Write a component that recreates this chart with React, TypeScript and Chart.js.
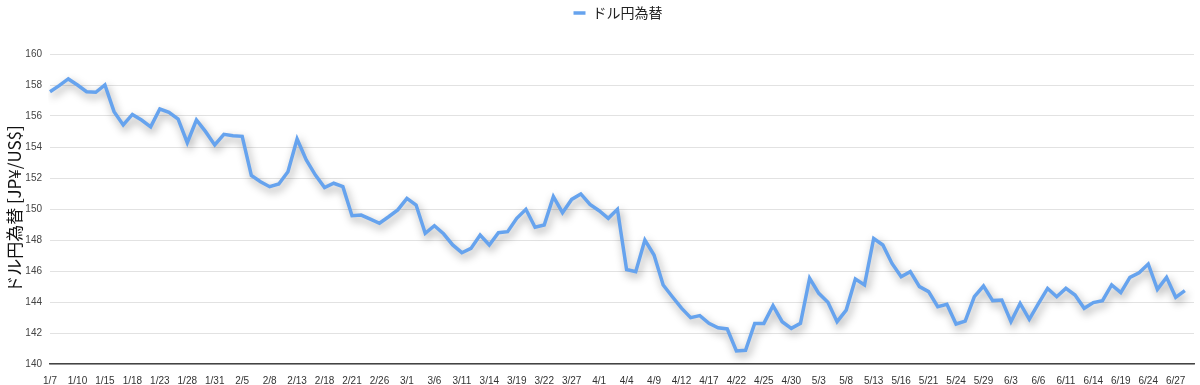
import React, { useEffect, useRef } from "react";
import { Chart, registerables } from "chart.js";

Chart.register(...registerables);

const dates: string[] = [
  "1/7", "1/8", "1/9", "1/10", "1/11", "1/14", "1/15", "1/16", "1/17", "1/18",
  "1/21", "1/22", "1/23", "1/24", "1/25", "1/28", "1/29", "1/30", "1/31", "2/1",
  "2/4", "2/5", "2/6", "2/7", "2/8", "2/11", "2/12", "2/13", "2/14", "2/15",
  "2/18", "2/19", "2/20", "2/21", "2/22", "2/25", "2/26", "2/27", "2/28", "3/1",
  "3/4", "3/5", "3/6", "3/7", "3/8", "3/11", "3/12", "3/13", "3/14", "3/15",
  "3/18", "3/19", "3/20", "3/21", "3/22", "3/25", "3/26", "3/27", "3/28", "3/29",
  "4/1", "4/2", "4/3", "4/4", "4/5", "4/8", "4/9", "4/10", "4/11", "4/12",
  "4/15", "4/16", "4/17", "4/18", "4/19", "4/22", "4/23", "4/24", "4/25", "4/26",
  "4/29", "4/30", "5/1", "5/2", "5/3",
  "5/6", "5/7", "5/8", "5/9", "5/10", "5/13", "5/14", "5/15", "5/16", "5/17",
  "5/20", "5/21", "5/22", "5/23", "5/24", "5/27", "5/28", "5/29", "5/30", "5/31",
  "6/3", "6/4", "6/5", "6/6", "6/7", "6/10", "6/11", "6/12", "6/13", "6/14",
  "6/17", "6/18", "6/19", "6/20", "6/21", "6/24", "6/25", "6/26", "6/27", "6/28",
  "",
];

const usdJpy: number[] = [
  157.57, 157.96, 158.39, 158.0, 157.57, 157.53, 158.0, 156.28, 155.42, 156.1,
  155.74, 155.3, 156.45, 156.24, 155.8, 154.28, 155.74, 154.99, 154.13, 154.82,
  154.73, 154.69, 152.17, 151.76, 151.44, 151.61, 152.4, 154.52, 153.16, 152.19,
  151.38, 151.66, 151.44, 149.57, 149.61, 149.35, 149.08, 149.5, 149.94, 150.69,
  150.26, 148.43, 148.92, 148.4, 147.68, 147.18, 147.46, 148.32, 147.68, 148.47,
  148.54, 149.4, 149.98, 148.82, 148.97, 150.8, 149.76, 150.62, 150.97, 150.3,
  149.89, 149.4, 149.98, 146.1, 145.96, 148.0, 147.03, 145.1, 144.34, 143.6,
  142.99, 143.12, 142.62, 142.34, 142.26, 140.84, 140.88, 142.62, 142.62, 143.76,
  142.73, 142.3, 142.62, 145.53, 144.56, 143.98, 142.73, 143.48, 145.48, 145.1,
  148.1, 147.68, 146.49, 145.63, 145.96, 144.99, 144.67, 143.7, 143.85, 142.58,
  142.77, 144.34, 145.03, 144.09, 144.13, 142.73, 143.91, 142.88, 143.9, 144.88,
  144.34, 144.88, 144.45, 143.59, 143.96, 144.09, 145.1, 144.6, 145.59, 145.89,
  146.45, 144.82, 145.59, 144.3, 144.73,
];

const seriesLabel = "ドル円為替";
const yAxisTitle = "ドル円為替 [JP¥/US$]";
const yMin = 140;
const yMax = 160;
const yStep = 2;

const shadowPlugin = {
  id: "lineShadow",
  beforeDatasetDraw(chart: any) {
    const ctx = chart.ctx;
    ctx.save();
    ctx.shadowColor = "rgba(0,0,0,0.38)";
    ctx.shadowBlur = 9;
    ctx.shadowOffsetX = 2;
    ctx.shadowOffsetY = 4;
  },
  afterDatasetDraw(chart: any) {
    chart.ctx.restore();
  },
};

const legendSpacing = {
  id: "legendSpacing",
  beforeInit(chart: any) {
    const legend = chart.legend;
    if (!legend) return;
    const origFit = legend.fit;
    legend.fit = function () {
      origFit.call(this);
      this.height += 24;
    };
  },
  afterLayout(chart: any) {
    const legend = chart.legend;
    if (!legend) return;
    legend.left += 21;
    legend.right += 21;
  },
};

export default function App() {
  const ref = useRef<HTMLCanvasElement | null>(null);

  useEffect(() => {
    if (!ref.current) return;
    const chart = new Chart(ref.current, {
      type: "line",
      data: {
        labels: dates,
        datasets: [
          {
            label: seriesLabel,
            data: usdJpy,
            borderColor: "#66a3ee",
            backgroundColor: "#66a3ee",
            borderWidth: 3.5,
            pointRadius: 0,
            tension: 0,
            borderJoinStyle: "miter",
          },
        ],
      },
      options: {
        animation: false,
        responsive: false,
        maintainAspectRatio: false,
        layout: { padding: { left: 0, right: 6, top: 0, bottom: 0 } },
        plugins: {
          legend: {
            display: true,
            position: "top",
            labels: {
              usePointStyle: true,
              pointStyle: "line",
              pointStyleWidth: 12,
              boxWidth: 12,
              padding: 6,
              color: "#222",
              font: { size: 14, family: "'Noto Sans CJK JP', 'Noto Sans', sans-serif" },
            },
          },
          tooltip: { enabled: false },
        },
        scales: {
          x: {
            type: "category",
            offset: false,
            grid: { display: false },
            border: { display: true, color: "#444", width: 1.5 },
            ticks: {
              autoSkip: false,
              maxRotation: 0,
              minRotation: 0,
              padding: 3,
              color: "#333",
              font: { size: 10, family: "'Liberation Sans', Arial, sans-serif" },
              callback: (_v: any, i: number) => (i % 3 === 0 ? dates[i] : ""),
            },
            afterFit: (scale: any) => {
              scale.height = 21;
            },
          },
          y: {
            min: yMin,
            max: yMax,
            grid: { color: "#e2e2e2", drawTicks: false },
            border: { display: false },
            ticks: {
              stepSize: yStep,
              padding: 8,
              color: "#444",
              font: { size: 10, family: "'Liberation Sans', Arial, sans-serif" },
            },
            title: {
              display: true,
              text: yAxisTitle,
              color: "#111",
              font: { size: 17, family: "'Noto Sans CJK JP', 'Noto Sans', sans-serif" },
              padding: { top: 4, bottom: 4 },
            },
            afterFit: (scale: any) => {
              scale.width = 50;
            },
          },
        },
      },
      plugins: [shadowPlugin, legendSpacing],
    });
    return () => chart.destroy();
  }, []);

  return (
    <div style={{ position: "fixed", left: 0, top: 0, width: 1200, height: 385, background: "#fff" }}>
      <canvas ref={ref} width={1200} height={385} style={{ width: 1200, height: 385 }} />
    </div>
  );
}
